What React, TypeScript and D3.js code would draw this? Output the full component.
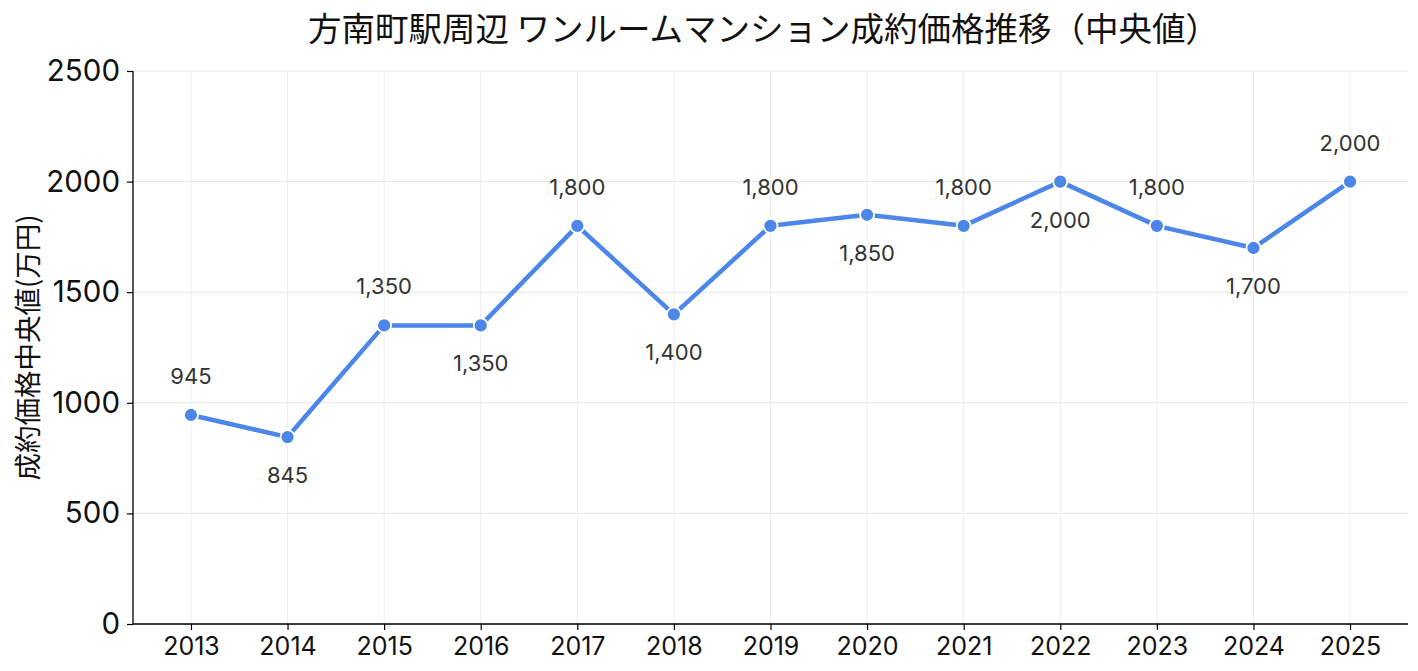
import { useEffect, useRef } from "react";
import * as d3 from "d3";

const years = ["2013", "2014", "2015", "2016", "2017", "2018", "2019", "2020", "2021", "2022", "2023", "2024", "2025"];
const prices = [945, 845, 1350, 1350, 1800, 1400, 1800, 1850, 1800, 2000, 1800, 1700, 2000];
const yTicks = [0, 500, 1000, 1500, 2000, 2500];

const title = "方南町駅周辺 ワンルームマンション成約価格推移（中央値）";
const yLabel = "成約価格中央値(万円)";

const W = 1418;
const H = 671;
const FONT = "Inter, 'Noto Sans CJK JP', sans-serif";
const JP = "'Noto Sans CJK JP', sans-serif";
const LINE = "#4c86e8";

export default function App() {
  const svgRef = useRef<SVGSVGElement>(null);

  useEffect(() => {
    document.body.style.margin = "0";
    if (!svgRef.current) return;
    const svg = d3.select(svgRef.current);
    svg.selectAll("*").remove();

    const margin = { top: 71, right: 10, bottom: 47, left: 133 };
    const innerW = W - margin.left - margin.right;
    const innerH = H - margin.top - margin.bottom;

    // matplotlib-like 5% margin on x
    const x = d3
      .scaleLinear()
      .domain([-0.6, years.length - 1 + 0.6])
      .range([0, innerW]);
    const y = d3.scaleLinear().domain([0, 2500]).range([innerH, 0]);

    const g = svg.append("g").attr("transform", `translate(${margin.left},${margin.top})`);

    // grid
    g.selectAll(".hgrid")
      .data(yTicks)
      .enter()
      .append("line")
      .attr("x1", 0)
      .attr("x2", innerW)
      .attr("y1", (d) => y(d))
      .attr("y2", (d) => y(d))
      .attr("stroke", "#e6e6e6")
      .attr("stroke-width", 1);
    g.selectAll(".vgrid")
      .data(years)
      .enter()
      .append("line")
      .attr("x1", (_, i) => x(i))
      .attr("x2", (_, i) => x(i))
      .attr("y1", 0)
      .attr("y2", innerH)
      .attr("stroke", "#ececec")
      .attr("stroke-width", 1);

    // y axis
    const yAxis = g
      .append("g")
      .call(d3.axisLeft(y).tickValues(yTicks).tickSize(6).tickPadding(7).tickFormat((d) => String(d)));
    yAxis.select(".domain").attr("stroke", "#000").attr("stroke-width", 1.3).attr("d", `M0,${innerH}V0`);
    yAxis.selectAll("line").attr("stroke", "#000").attr("stroke-width", 1.2);
    yAxis.selectAll("text").attr("font-family", FONT).attr("font-size", 29.5).attr("fill", "#111");

    // x axis
    const xAxis = g
      .append("g")
      .attr("transform", `translate(0,${innerH})`)
      .call(
        d3
          .axisBottom(x)
          .tickValues(d3.range(years.length))
          .tickSize(6)
          .tickPadding(7)
          .tickFormat((d) => years[d as number])
      );
    xAxis.select(".domain").attr("stroke", "#000").attr("stroke-width", 1.3).attr("d", `M0,0H${innerW}`);
    xAxis.selectAll("line").attr("stroke", "#000").attr("stroke-width", 1.2);
    xAxis.selectAll("text").attr("font-family", FONT).attr("font-size", 25).attr("fill", "#111");

    // line
    const line = d3
      .line<number>()
      .x((_, i) => x(i))
      .y((d) => y(d));
    g.append("path")
      .datum(prices)
      .attr("d", line)
      .attr("fill", "none")
      .attr("stroke", LINE)
      .attr("stroke-width", 4.5)
      .attr("stroke-linejoin", "round");

    g.selectAll(".pt")
      .data(prices)
      .enter()
      .append("circle")
      .attr("cx", (_, i) => x(i))
      .attr("cy", (d) => y(d))
      .attr("r", 7)
      .attr("fill", LINE)
      .attr("stroke", "#fff")
      .attr("stroke-width", 1.8);

    // value labels, alternating above / below
    g.selectAll(".lbl")
      .data(prices)
      .enter()
      .append("text")
      .attr("x", (_, i) => x(i))
      .attr("y", (d, i) => y(d) + (i % 2 === 0 ? -39 : 38))
      .attr("text-anchor", "middle")
      .attr("dominant-baseline", "central")
      .attr("font-family", FONT)
      .attr("font-size", 22)
      .attr("fill", "#333")
      .text((d) => d3.format(",")(d));

    // title
    svg
      .append("text")
      .attr("x", margin.left + innerW / 2 - 7)
      .attr("y", 26)
      .attr("text-anchor", "middle")
      .attr("dominant-baseline", "central")
      .attr("font-family", JP)
      .attr("font-size", 33.5)
      .attr("fill", "#111")
      .text(title);

    // y label
    svg
      .append("text")
      .attr("transform", `translate(26,${margin.top + innerH / 2}) rotate(-90)`)
      .attr("text-anchor", "middle")
      .attr("dominant-baseline", "central")
      .attr("font-family", JP)
      .attr("font-size", 27.5)
      .attr("fill", "#111")
      .text(yLabel);
  }, []);

  return <svg ref={svgRef} width={W} height={H} style={{ display: "block", background: "#fff" }} />;
}
